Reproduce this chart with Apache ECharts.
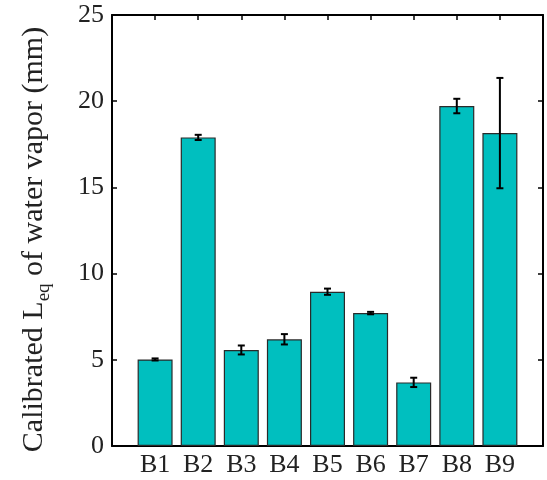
<!DOCTYPE html>
<html>
<head>
<meta charset="utf-8">
<script src="https://cdn.jsdelivr.net/npm/echarts@6/dist/echarts.min.js"></script>
<style>html,body{margin:0;padding:0;background:#fff}#c{width:547px;height:480px}</style>
</head>
<body>
<div id="c"></div>
<script>
const categories = ['B1','B2','B3','B4','B5','B6','B7','B8','B9'];
const values = [5.02, 17.9, 5.57, 6.19, 8.95, 7.71, 3.69, 19.72, 18.15];
const errors = [0.06, 0.15, 0.26, 0.30, 0.18, 0.07, 0.27, 0.42, 3.2];
const yTicks = [0, 5, 10, 15, 20, 25];

const font = "'Liberation Serif', 'Times New Roman', serif";
const chart = echarts.init(document.getElementById('c'));
const barData = values.map((v, i) => [i + 1, v]);
const errData = values.map((v, i) => [i + 1, v - errors[i], v + errors[i]]);

const axisCommon = {
  type: 'value', min: 0, max: 10, interval: 1,
  axisLine: { show: true, onZero: false, lineStyle: { color: '#000', width: 2 } },
  axisTick: { show: true, inside: true, length: 5, lineStyle: { color: '#000', width: 1.5 } },
  splitLine: { show: false }
};
chart.setOption({
  animation: false,
  grid: { left: 112, top: 15, right: 4, bottom: 34, containLabel: false },
  xAxis: [
    Object.assign({}, axisCommon, {
      position: 'bottom',
      axisLabel: {
        show: true, fontFamily: font, fontSize: 26, color: '#222', margin: 6,
        formatter: v => categories[v - 1] || ''
      }
    }),
    Object.assign({}, axisCommon, { position: 'top', axisLabel: { show: false } })
  ],
  yAxis: [
    {
      type: 'value', min: yTicks[0], max: yTicks[yTicks.length - 1], interval: 5,
      position: 'left',
      axisLine: { show: true, onZero: false, lineStyle: { color: '#000', width: 2 } },
      axisTick: { show: true, inside: true, length: 5, lineStyle: { color: '#000', width: 1.5 } },
      splitLine: { show: false },
      axisLabel: { fontFamily: font, fontSize: 26, color: '#222', margin: 8 },
      name: '{a|Calibrated L}{s|eq}{a| of water vapor (mm)}',
      nameLocation: 'middle', nameRotate: 90, nameGap: 58,
      nameTextStyle: {
        padding: [0, 18, 0, 0],
        rich: {
          a: { fontFamily: font, fontSize: 30, color: '#222', lineHeight: 40, verticalAlign: 'middle' },
          s: { fontFamily: font, fontSize: 19, color: '#222', lineHeight: 40, verticalAlign: 'bottom' }
        }
      }
    },
    {
      type: 'value', min: yTicks[0], max: yTicks[yTicks.length - 1], interval: 5,
      position: 'right',
      axisLine: { show: true, onZero: false, lineStyle: { color: '#000', width: 2 } },
      axisTick: { show: true, inside: true, length: 5, lineStyle: { color: '#000', width: 1.5 } },
      splitLine: { show: false },
      axisLabel: { show: false }
    }
  ],
  series: [
    {
      type: 'bar', data: barData, barWidth: 35,
      itemStyle: { color: '#00BFBF', borderColor: '#2a2a2a', borderWidth: 1.2 },
      z: 2
    },
    {
      type: 'custom', data: errData, z: 5,
      renderItem: function (params, api) {
        const x = api.value(0);
        const lo = api.coord([x, api.value(1)]);
        const hi = api.coord([x, api.value(2)]);
        const w = 3.5;
        const st = { stroke: '#000', lineWidth: 2 };
        return {
          type: 'group',
          children: [
            { type: 'line', shape: { x1: lo[0], y1: lo[1], x2: hi[0], y2: hi[1] }, style: st },
            { type: 'line', shape: { x1: lo[0] - w, y1: lo[1], x2: lo[0] + w, y2: lo[1] }, style: st },
            { type: 'line', shape: { x1: hi[0] - w, y1: hi[1], x2: hi[0] + w, y2: hi[1] }, style: st }
          ]
        };
      }
    }
  ]
});
</script>
</body>
</html>
